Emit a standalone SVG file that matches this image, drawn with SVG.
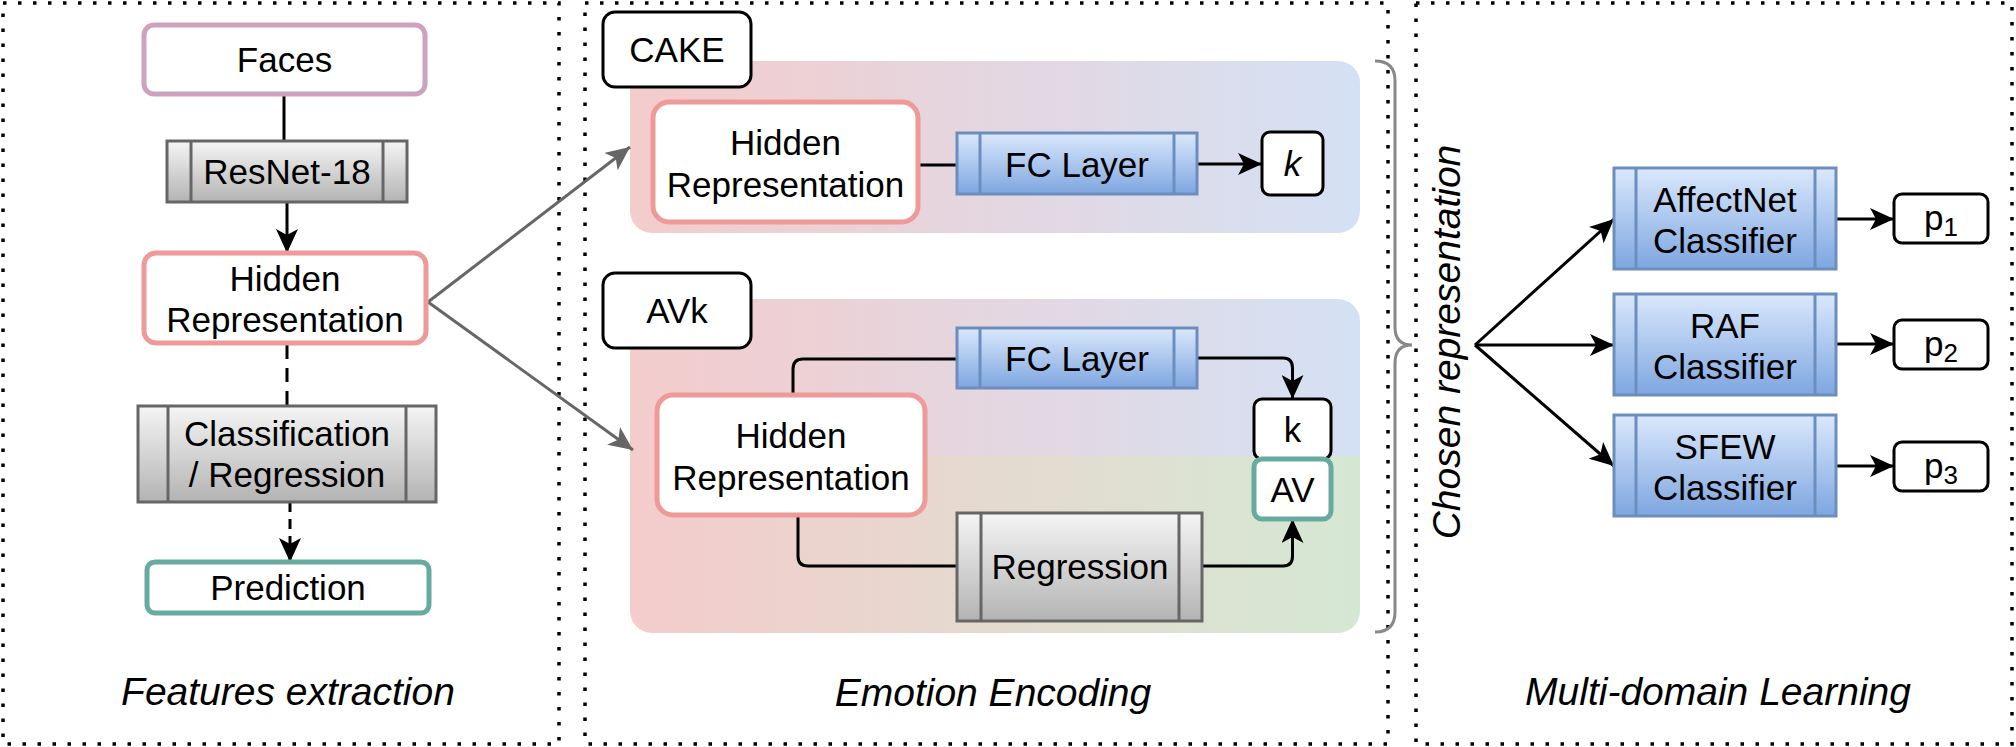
<svg xmlns="http://www.w3.org/2000/svg" width="2016" height="747" viewBox="0 0 2016 747">
<style>
text{font-family:"Liberation Sans",Arial,sans-serif;fill:#000}
.t{font-size:35px;text-anchor:middle}
.lbl{font-size:39px;font-style:italic;text-anchor:middle}
.panel{fill:none;stroke:#000;stroke-width:3.5;stroke-dasharray:3.5 11.5}
.blk{fill:#fff;stroke:#000;stroke-width:3}
.pink{fill:#fff;stroke:#EE9A98;stroke-width:5}
.teal{fill:#fff;stroke:#67AB9F;stroke-width:5}
.purple{fill:#fff;stroke:#CDA2BE;stroke-width:5}
.gray{fill:url(#gGray);stroke:#666;stroke-width:3}
.grayl{stroke:#666;stroke-width:3}
.blue{fill:url(#gBlue);stroke:#6C8EBF;stroke-width:3}
.bluel{stroke:#6C8EBF;stroke-width:3}
.c{fill:none;stroke:#000;stroke-width:3}
.cg{fill:none;stroke:#666;stroke-width:3}
</style>
<defs>
<linearGradient id="gGray" x1="0" y1="0" x2="0" y2="1"><stop offset="0" stop-color="#F5F5F5"/><stop offset="1" stop-color="#B3B3B3"/></linearGradient>
<linearGradient id="gBlue" x1="0" y1="0" x2="0" y2="1"><stop offset="0" stop-color="#DAE8FC"/><stop offset="1" stop-color="#7EA6E0"/></linearGradient>
<linearGradient id="gTop" x1="0" y1="0" x2="1" y2="0"><stop offset="0" stop-color="#F4CCCC"/><stop offset="1" stop-color="#D4E1F4"/></linearGradient>
<linearGradient id="gBot" x1="0" y1="0" x2="1" y2="0"><stop offset="0" stop-color="#F4CCCC"/><stop offset="1" stop-color="#D5E8D4"/></linearGradient>
<clipPath id="avkClip"><rect x="630" y="299" width="730" height="334" rx="22"/></clipPath>
<marker id="ah" viewBox="0 0 24 22" refX="24" refY="11" markerWidth="24" markerHeight="22" markerUnits="userSpaceOnUse" orient="auto"><path d="M0,0 L24,11 L0,22 L6,11 Z" fill="#000"/></marker>
<marker id="ahg" viewBox="0 0 24 22" refX="24" refY="11" markerWidth="24" markerHeight="22" markerUnits="userSpaceOnUse" orient="auto"><path d="M0,0 L24,11 L0,22 L6,11 Z" fill="#666"/></marker>
</defs>

<g id="panels">
<rect class="panel" x="3" y="3" width="556" height="741"/>
<rect class="panel" x="585" y="3" width="803" height="741"/>
<rect class="panel" x="1416" y="3" width="596" height="741"/>
</g>

<g id="panel-cake">
<rect x="630" y="61" width="730" height="172" rx="22" fill="url(#gTop)"/>
</g>
<g id="panel-avk">
<g clip-path="url(#avkClip)">
<rect x="630" y="299" width="730" height="157" fill="url(#gTop)"/>
<rect x="630" y="456" width="730" height="177" fill="url(#gBot)"/>
</g>
</g>

<g id="connectors">
<line class="c" x1="284" y1="94" x2="284" y2="141"/>
<line class="c" x1="287" y1="202" x2="287" y2="253" marker-end="url(#ah)"/>
<line class="c" x1="287" y1="345" x2="287" y2="406" stroke-dasharray="14 9"/>
<line class="c" x1="290" y1="502" x2="290" y2="562" stroke-dasharray="10 7" marker-end="url(#ah)"/>
<line class="cg" x1="428" y1="302" x2="630" y2="147" marker-end="url(#ahg)"/>
<line class="cg" x1="428" y1="302" x2="633" y2="450" marker-end="url(#ahg)"/>
<line class="c" x1="918" y1="165" x2="957" y2="165"/>
<line class="c" x1="1197" y1="164" x2="1262" y2="164" marker-end="url(#ah)"/>
<path class="c" d="M793,395 V369 Q793,359 803,359 H957"/>
<path class="c" d="M798,515 V556 Q798,566 808,566 H957"/>
<path class="c" d="M1197,358 H1283 Q1292.5,358 1292.5,368 V399" marker-end="url(#ah)"/>
<path class="c" d="M1202,566 H1283 Q1292.5,566 1292.5,556 V519" marker-end="url(#ah)"/>
<path fill="none" stroke="#888" stroke-width="3" d="M1375,61 Q1395,61 1395,81 V327 Q1395,345 1412,345 Q1395,345 1395,363 V612 Q1395,632 1375,632"/>
<line class="c" x1="1475" y1="345" x2="1614" y2="219" marker-end="url(#ah)"/>
<line class="c" x1="1475" y1="345" x2="1614" y2="345" marker-end="url(#ah)"/>
<line class="c" x1="1475" y1="345" x2="1614" y2="466" marker-end="url(#ah)"/>
<line class="c" x1="1836" y1="219" x2="1894" y2="219" marker-end="url(#ah)"/>
<line class="c" x1="1836" y1="344" x2="1894" y2="344" marker-end="url(#ah)"/>
<line class="c" x1="1836" y1="466" x2="1894" y2="466" marker-end="url(#ah)"/>
</g>

<g id="faces">
<rect class="purple" x="144" y="25" width="281" height="69" rx="10"/>
<text class="t" x="284.5" y="72">Faces</text>
</g>
<g id="resnet">
<rect class="gray" x="167" y="141" width="240" height="61"/>
<line class="grayl" x1="191" y1="141" x2="191" y2="202"/>
<line class="grayl" x1="383" y1="141" x2="383" y2="202"/>
<text class="t" x="287" y="184">ResNet-18</text>
</g>
<g id="hidden-left">
<rect class="pink" x="144" y="253" width="282" height="90" rx="12"/>
<text class="t" x="285" y="291">Hidden</text>
<text class="t" x="285" y="332">Representation</text>
</g>
<g id="classification">
<rect class="gray" x="138" y="406" width="298" height="96"/>
<line class="grayl" x1="168" y1="406" x2="168" y2="502"/>
<line class="grayl" x1="406" y1="406" x2="406" y2="502"/>
<text class="t" x="287" y="446">Classification</text>
<text class="t" x="287" y="487">/ Regression</text>
</g>
<g id="prediction">
<rect class="teal" x="147" y="562" width="282" height="51" rx="8"/>
<text class="t" x="288" y="600">Prediction</text>
</g>
<g id="label-features">
<text class="lbl" x="288" y="705">Features extraction</text>
</g>

<g id="cake-label">
<rect class="blk" x="603" y="12" width="148" height="75" rx="12"/>
<text class="t" x="677" y="62">CAKE</text>
</g>
<g id="cake-hidden">
<rect class="pink" x="653" y="102" width="265" height="120" rx="16"/>
<text class="t" x="785.5" y="155">Hidden</text>
<text class="t" x="785.5" y="197">Representation</text>
</g>
<g id="cake-fc">
<rect class="blue" x="957" y="133" width="240" height="61"/>
<line class="bluel" x1="980" y1="133" x2="980" y2="194"/>
<line class="bluel" x1="1174" y1="133" x2="1174" y2="194"/>
<text class="t" x="1077" y="177">FC Layer</text>
</g>
<g id="cake-k">
<rect class="blk" x="1262" y="132" width="61" height="63" rx="8"/>
<text class="t" x="1292.5" y="176" font-style="italic">k</text>
</g>

<g id="avk-label">
<rect class="blk" x="603" y="273" width="148" height="75" rx="12"/>
<text class="t" x="677" y="323">AVk</text>
</g>
<g id="avk-hidden">
<rect class="pink" x="657" y="395" width="268" height="120" rx="16"/>
<text class="t" x="791" y="448">Hidden</text>
<text class="t" x="791" y="490">Representation</text>
</g>
<g id="avk-fc">
<rect class="blue" x="957" y="328" width="240" height="60"/>
<line class="bluel" x1="980" y1="328" x2="980" y2="388"/>
<line class="bluel" x1="1174" y1="328" x2="1174" y2="388"/>
<text class="t" x="1077" y="371">FC Layer</text>
</g>
<g id="avk-regression">
<rect class="gray" x="957" y="513" width="245" height="108"/>
<line class="grayl" x1="981" y1="513" x2="981" y2="621"/>
<line class="grayl" x1="1179" y1="513" x2="1179" y2="621"/>
<text class="t" x="1080" y="579">Regression</text>
</g>
<g id="avk-k">
<rect class="blk" x="1254" y="399" width="77" height="60" rx="8"/>
<text class="t" x="1292.5" y="442">k</text>
</g>
<g id="avk-av">
<rect class="teal" x="1254" y="459" width="77" height="60" rx="8"/>
<text class="t" x="1292.5" y="502">AV</text>
</g>
<g id="label-emotion">
<text class="lbl" x="993" y="706">Emotion Encoding</text>
</g>

<g id="chosen">
<text class="lbl" font-size="39.5" transform="translate(1460,342) rotate(-90)">Chosen representation</text>
</g>
<g id="affectnet">
<rect class="blue" x="1614" y="168" width="222" height="101"/>
<line class="bluel" x1="1636" y1="168" x2="1636" y2="269"/>
<line class="bluel" x1="1815" y1="168" x2="1815" y2="269"/>
<text class="t" x="1725" y="212">AffectNet</text>
<text class="t" x="1725" y="253">Classifier</text>
</g>
<g id="raf">
<rect class="blue" x="1614" y="294" width="222" height="101"/>
<line class="bluel" x1="1636" y1="294" x2="1636" y2="395"/>
<line class="bluel" x1="1815" y1="294" x2="1815" y2="395"/>
<text class="t" x="1725" y="338">RAF</text>
<text class="t" x="1725" y="379">Classifier</text>
</g>
<g id="sfew">
<rect class="blue" x="1614" y="415" width="222" height="101"/>
<line class="bluel" x1="1636" y1="415" x2="1636" y2="516"/>
<line class="bluel" x1="1815" y1="415" x2="1815" y2="516"/>
<text class="t" x="1725" y="459">SFEW</text>
<text class="t" x="1725" y="500">Classifier</text>
</g>
<g id="p1">
<rect class="blk" x="1894" y="194" width="94" height="49" rx="8"/>
<text class="t" font-size="38" x="1941" y="230">p<tspan font-size="26" dy="6">1</tspan></text>
</g>
<g id="p2">
<rect class="blk" x="1894" y="320" width="94" height="49" rx="8"/>
<text class="t" font-size="38" x="1941" y="356">p<tspan font-size="26" dy="6">2</tspan></text>
</g>
<g id="p3">
<rect class="blk" x="1894" y="442" width="94" height="49" rx="8"/>
<text class="t" font-size="38" x="1941" y="478">p<tspan font-size="26" dy="6">3</tspan></text>
</g>
<g id="label-multi">
<text class="lbl" x="1718" y="705">Multi-domain Learning</text>
</g>
</svg>
